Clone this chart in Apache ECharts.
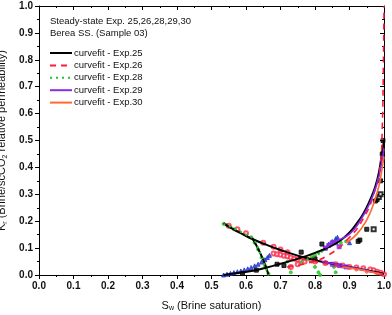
<!DOCTYPE html>
<html><head><meta charset="utf-8">
<script src="https://cdn.jsdelivr.net/npm/echarts@6/dist/echarts.min.js"></script>
<style>html,body{margin:0;padding:0;background:#fff}#c{width:392px;height:315px}</style>
</head><body><div id="c"></div>
<script>
// ---- data (Sw, Kr) ----
var xTicks = [0,0.1,0.2,0.3,0.4,0.5,0.6,0.7,0.8,0.9,1.0];
var legendNames = ['curvefit - Exp.25','curvefit - Exp.26','curvefit - Exp.28','curvefit - Exp.29','curvefit - Exp.30'];
var headerLines = ['Steady-state Exp. 25,26,28,29,30','Berea SS. (Sample 03)'];

var fit25Krw = [[0.535,0],[0.58,0.008],[0.62,0.016],[0.66,0.028],[0.70,0.042],[0.75,0.06],[0.80,0.082],[0.85,0.11],[0.88,0.135],[0.90,0.158],[0.92,0.19],[0.94,0.228],[0.96,0.28],[0.975,0.33],[0.985,0.38],[0.995,0.46],[1.0,0.5]];
var fit25Krnw = [[0.535,0.193],[0.56,0.172],[0.59,0.152],[0.62,0.133],[0.66,0.112],[0.70,0.093],[0.75,0.072],[0.80,0.055],[0.85,0.042],[0.90,0.03],[0.95,0.018],[0.98,0.01],[1.0,0.004]];
var fit25Steep = [[0.618,0.138],[0.628,0.115],[0.638,0.09],[0.648,0.062],[0.657,0.032],[0.665,0.002]];
var fit26Krw = [[0.72,0.03],[0.78,0.045],[0.84,0.075],[0.90,0.14],[0.94,0.21],[0.97,0.3],[0.99,0.42],[0.995,0.55],[0.998,0.75],[1.0,1.0]];
var fit26Krnw = [[0.76,0.06],[0.80,0.05],[0.85,0.038],[0.90,0.027],[0.95,0.015],[1.0,0.003]];
var fit28Krnw = [[0.535,0.19],[0.57,0.17],[0.60,0.15],[0.62,0.135],[0.635,0.1],[0.65,0.05],[0.665,0.0]];
var fit28Krw = [[0.76,0.05],[0.79,0.065],[0.82,0.085]];
var fit29Krw = [[0.83,0.1],[0.86,0.125],[0.90,0.152],[0.93,0.2],[0.96,0.27],[0.98,0.34],[0.995,0.43],[1.0,0.47]];
var fit29Krnw = [[0.82,0.05],[0.86,0.04],[0.90,0.03],[0.94,0.02],[0.97,0.01],[0.99,0.003]];
var fit30Krw = [[0.89,0.12],[0.92,0.15],[0.95,0.205],[0.97,0.265],[0.985,0.33],[0.995,0.4],[1.0,0.44]];
var fit30Krnw = [[0.88,0.03],[0.92,0.022],[0.96,0.012],[0.99,0.004]];

var blueData = [[0.535,0],[0.545,0.003],[0.555,0.006],[0.565,0.009],[0.575,0.012],[0.585,0.015],[0.595,0.019],[0.605,0.023],[0.615,0.028],[0.625,0.034],[0.635,0.04],[0.645,0.048],[0.655,0.057],[0.662,0.065],[0.668,0.073],[0.83,0.1],[0.84,0.115],[0.85,0.125],[0.86,0.135],[0.865,0.14],[0.9,0.12]];
var redData = [[0.55,0.183],[0.575,0.17],[0.60,0.155],[0.65,0.12],[0.68,0.105],[0.70,0.095],[0.72,0.085],
  [0.68,0.08],[0.69,0.077],[0.70,0.075],[0.71,0.072],[0.72,0.07],[0.73,0.065],[0.74,0.06],[0.75,0.058],
  [0.80,0.05],[0.83,0.045],[0.86,0.04],[0.88,0.035],[0.90,0.03],[0.92,0.028],[0.94,0.025],[0.96,0.02],[0.97,0.018],[0.98,0.012],[0.99,0.008],[1.0,0.003],
  [0.73,0.03],[0.75,0.04],[0.77,0.05],[0.79,0.055]];
var greenData = [[0.535,0.19],[0.545,0.185],[0.555,0.178],[0.565,0.17],[0.58,0.162],[0.60,0.15],[0.615,0.14],[0.625,0.12],[0.635,0.095],[0.645,0.065],[0.655,0.035],[0.665,0.005],
  [0.72,0.05],[0.725,0.03],[0.73,0.01],
  [0.76,0.045],[0.77,0.055],[0.78,0.06],[0.79,0.068],[0.80,0.075],[0.81,0.085],[0.82,0.09],
  [0.79,0.05],[0.80,0.03],[0.81,0.01],[0.815,0.0],[0.855,0.03],[0.86,0.01],[0.875,0.12],[0.89,0.125]];
var blackSquares = [[0.59,0.006],[0.63,0.018],[0.69,0.04],[0.71,0.035],[0.76,0.085],[0.80,0.06],[0.82,0.115],[0.925,0.125],[0.93,0.13],[0.95,0.17],[0.975,0.275],[0.98,0.28],[0.99,0.35],[0.995,0.45],[0.997,0.5]];
var openSquares = [[0.97,0.17],[0.985,0.29],[0.99,0.3]];
var purpleData = [[0.83,0.1],[0.84,0.11],[0.85,0.12],[0.86,0.12],[0.87,0.105],[0.85,0.04],[0.87,0.035],[0.89,0.03]];
var orangeData = [[0.90,0.03],[0.92,0.02],[0.95,0.012],[0.98,0.006]];

var chart = echarts.init(document.getElementById('c'), null, {renderer:'canvas'});
var F = 'Liberation Sans';
function lineS(name, data, color, type, width){
  return {type:'line', name:name, data:data, smooth:true, symbol:'none', xAxisIndex:0, yAxisIndex:0,
    lineStyle:{color:color, type:type, width:width}, itemStyle:{color:color}, z:3, silent:true, clip:true};
}
function scat(data, color, symbol, size){
  return {type:'scatter', data:data, symbol:symbol, symbolSize:size, itemStyle:{color:color, borderColor:color}, xAxisIndex:0, yAxisIndex:0, z:2, silent:true};
}
var axCommon = {min:0, max:1, interval:0.1, axisLine:{show:true, onZero:false, lineStyle:{color:'#000', width:1}},
  splitLine:{show:false}, minorTick:{show:true, splitNumber:2, length:2, lineStyle:{color:'#000'}},
  axisTick:{show:true, length:4, lineStyle:{color:'#000'}}};
var mirrorTick = {axisTick:{show:true, inside:true, length:4, lineStyle:{color:'#000'}}, minorTick:{show:true, splitNumber:2, length:2, lineStyle:{color:'#000'}}};
var lbl = {color:'#111', fontSize:10, fontWeight:'bold', fontFamily:F, formatter:function(v){return v.toFixed(1);}};
var nameRich = {m:{fontSize:11, fontFamily:F, color:'#111'}, s:{fontSize:7, fontFamily:F, color:'#111', verticalAlign:'bottom', padding:[6,0,0,0]}};
chart.setOption({
  animation:false,
  grid:{left:39, right:8, top:6, bottom:40, containLabel:false, outerBoundsMode:'none'},
  xAxis:[
    Object.assign({type:'value', position:'bottom', axisLabel:Object.assign({margin:6}, lbl),
      name:'{m|S}{s|w}{m| (Brine saturation)}', nameLocation:'middle', nameGap:24,
      nameTextStyle:{rich:nameRich}}, axCommon),
    Object.assign({type:'value', position:'top', axisLabel:{show:false}}, axCommon, mirrorTick)
  ],
  yAxis:[
    Object.assign({type:'value', position:'left', axisLabel:Object.assign({margin:6}, lbl),
      name:'{m|K}{s|r}{m| (Brine/scCO}{s|2}{m| relative permeability)}', nameLocation:'middle', nameGap:30,
      nameTextStyle:{rich:nameRich}}, axCommon),
    Object.assign({type:'value', position:'right', axisLabel:{show:false}}, axCommon, mirrorTick)
  ],
  legend:{show:true, data:legendNames, orient:'vertical', left:49, top:48, padding:0, itemWidth:22, itemHeight:10, itemGap:2.4,
    itemStyle:{color:'transparent', borderColor:'transparent', borderWidth:0, opacity:0},
    textStyle:{fontSize:9.5, fontFamily:F, color:'#111', padding:[0,0,0,-3]}, selectedMode:false},
  graphic:[
    {type:'text', left:50, top:16, style:{text:headerLines[0], fontSize:9.5, fontFamily:F, fill:'#111'}},
    {type:'text', left:50, top:28, style:{text:headerLines[1], fontSize:9.5, fontFamily:F, fill:'#111'}}
  ],
  series:[
    scat(greenData,'#22c422','circle',3),
    scat(redData,'#ff2a4a','emptyCircle',4),
    scat(blueData,'#2233cc','triangle',4),
    scat(purpleData,'#8a2be2','rect',4),
    scat(orangeData,'#ff6a30','circle',3),
    scat(blackSquares,'#000','rect',4),
    scat(openSquares,'#000','emptyRect',4),
    lineS(legendNames[0], fit25Krw, '#000', 'solid', 2),
    lineS(legendNames[0], fit25Krnw, '#000', 'solid', 2),
    lineS(legendNames[0], fit25Steep, '#000', 'solid', 2),
    lineS(legendNames[1], fit26Krw, '#ff1a3c', [6,5], 1.6),
    lineS(legendNames[1], fit26Krnw, '#ff1a3c', [6,5], 1.6),
    lineS(legendNames[2], fit28Krnw, '#22c422', [2,4], 2),
    lineS(legendNames[2], fit28Krw, '#22c422', [2,4], 2),
    lineS(legendNames[3], fit29Krw, '#8a2be2', 'solid', 1.6),
    lineS(legendNames[3], fit29Krnw, '#8a2be2', 'solid', 1.6),
    lineS(legendNames[4], fit30Krw, '#ff6a30', 'solid', 1.6),
    lineS(legendNames[4], fit30Krnw, '#ff6a30', 'solid', 1.6)
  ]
});
</script></body></html>
